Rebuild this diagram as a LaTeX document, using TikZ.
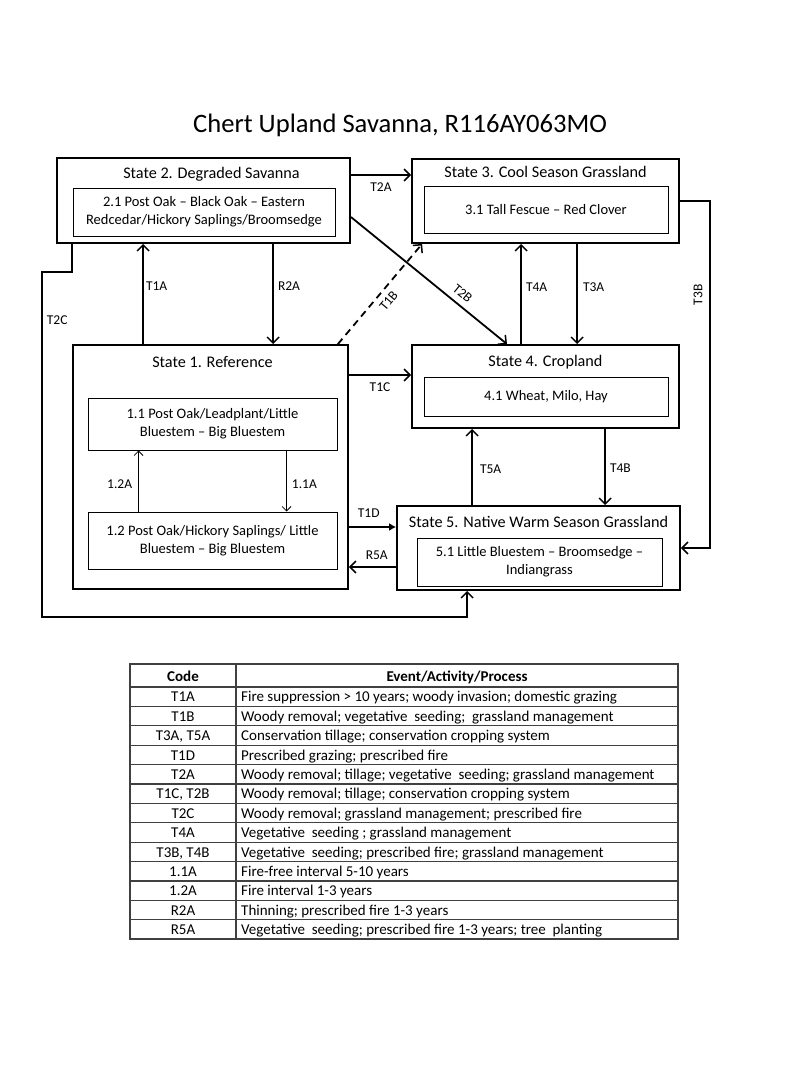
\documentclass[tikz,border=0pt]{standalone}
\usepackage{fontspec}
\setmainfont{Carlito}
\usetikzlibrary{positioning}
\usetikzlibrary{arrows.meta}

\begin{document}
\begin{tikzpicture}[x=1pt, y=-1pt,
statebox/.style={rectangle, draw, line width=1.8pt, inner sep=0pt},
phasebox/.style={rectangle, draw, line width=0.9pt, inner sep=2pt, align=center, font=\fontsize{14.5}{18}\selectfont},
statetitle/.style={inner sep=0pt, font=\fontsize{16.2}{18}\selectfont},
edge/.style={-{Straight Barb[length=6pt,width=12pt,line width=1.5pt]}, line width=1.8pt},
thinedge/.style={-{Straight Barb[length=4.5pt,width=9pt,line width=0.8pt]}, line width=0.8pt},
lbl/.style={inner sep=1pt, font=\fontsize{13.5}{15}\selectfont},
codecell/.style={inner sep=0pt, font=\fontsize{15}{17}\selectfont},
rowline/.style={draw=black!75, line width=1.3pt}
]
\useasboundingbox (0,0) rectangle (800,1067);

%Title
\node[font=\fontsize{26.6}{30}\selectfont] (title) at (400,125) {Chert Upland Savanna, R116AY063MO};

%States
\node[statebox, minimum width=293pt, minimum height=85pt] (s2) at (203.5,200.5) {};
\node[statebox, minimum width=267pt, minimum height=84pt] (s3) at (545.5,201) {};
\node[statebox, minimum width=267pt, minimum height=83pt] (s4) at (545.5,386.5) {};
\node[statebox, minimum width=275pt, minimum height=244pt] (s1) at (210.5,467) {};
\node[statebox, minimum width=283pt, minimum height=84pt] (s5) at (538.5,548) {};

\node[statetitle] (s2t) [below=10pt of s2.north, xshift=8pt] {State 2. Degraded Savanna};
\node[statetitle] (s3t) [below=8pt of s3.north] {State 3. Cool Season Grassland};
\node[statetitle] (s4t) [below=11pt of s4.north] {State 4. Cropland};
\node[statetitle] (s1t) [below=12pt of s1.north, xshift=2pt] {State 1. Reference};
\node[statetitle] (s5t) [below=11pt of s5.north] {State 5. Native Warm Season Grassland};

%Phases
\node[phasebox, minimum width=262pt, minimum height=48pt] (p21) at (204,212) {2.1 Post Oak – Black Oak – Eastern\\Redcedar/Hickory Saplings/Broomsedge};
\node[phasebox, minimum width=244pt, minimum height=47pt] (p31) at (546,209.5) {3.1 Tall Fescue – Red Clover};
\node[phasebox, minimum width=244pt, minimum height=39pt] (p41) at (546,396.5) {4.1 Wheat, Milo, Hay};
\node[phasebox, minimum width=249pt, minimum height=52pt] (p11) at (212.5,424) {1.1 Post Oak/Leadplant/Little\\Bluestem – Big Bluestem};
\node[phasebox, minimum width=249pt, minimum height=57pt] (p12) at (212.5,540.5) {1.2 Post Oak/Hickory Saplings/ Little\\Bluestem – Big Bluestem};
\node[phasebox, minimum width=245pt, minimum height=48pt] (p51) at (539.5,562) {5.1 Little Bluestem – Broomsedge –\\Indiangrass};

%Lines
\draw[edge] ([yshift=25.5pt]s2.east) -- node[lbl, below=6pt] (t2a) {T2A} ([yshift=25.5pt]s2.east -| s3.west);
\draw[edge] ([yshift=-16.5pt]s2.east) -- node[lbl, sloped, above=5pt, pos=0.67] (t2b) {T2B} ([xshift=-38.5pt]s4.north);
\draw[edge, dashed, dash pattern=on 7pt off 5pt] ([xshift=-11pt]s1.north east) -- node[lbl, sloped, below=5pt, pos=0.5] (t1b) {T1B} ([xshift=11pt]s3.south west);
\draw[edge] ([xshift=71pt]s1.north west) -- node[lbl, right=1pt, pos=0.58] (t1a) {T1A} ([xshift=71pt]s1.north west |- s2.south);
\draw[edge] ([xshift=217pt]s2.south west) -- node[lbl, right=3pt, pos=0.42] (r2a) {R2A} ([xshift=217pt]s2.south west |- s1.north);
\draw[edge] ([xshift=110pt]s4.north west) -- node[lbl, right=3pt, pos=0.57] (t4a) {T4A} ([xshift=110pt]s4.north west |- s3.south);
\draw[edge] ([xshift=166pt]s3.south west) -- node[lbl, right=4pt, pos=0.43] (t3a) {T3A} ([xshift=166pt]s3.south west |- s4.north);
\draw[edge] ([xshift=76pt]s5.north west) -- node[lbl, right=6pt, pos=0.47] (t5a) {T5A} ([xshift=76pt]s5.north west |- s4.south);
\draw[edge] ([xshift=194pt]s4.south west) -- node[lbl, right=3pt, pos=0.51] (t4b) {T4B} ([xshift=194pt]s4.south west |- s5.north);
\draw[edge] ([yshift=92pt]s1.east) -- node[lbl, below=6pt] (t1c) {T1C} ([yshift=92pt]s1.east -| s4.west);
\draw[-{Latex[length=7pt,width=8pt]}, line width=1.8pt] ([yshift=-60pt]s1.east) -- node[lbl, above=8pt, pos=0.42] (t1d) {T1D} ([yshift=-60pt]s1.east -| s5.west);
\draw[edge] ([yshift=-19pt]s5.west) -- node[lbl, above=6pt, pos=0.41] (r5a) {R5A} ([yshift=-19pt]s5.west -| s1.east);
\draw[edge] (s3.east) -- ++(30,0) |- (s5.east);
\node[lbl, rotate=90] (t3b) at (698,295) {T3B};
\coordinate (t2c1) at (42,272);
\coordinate (t2c2) at (42,617);
\draw[edge] ([xshift=16pt]s2.south west) |- (t2c1) -- node[lbl, right=3pt, pos=0.14] (t2c) {T2C} (t2c2) -| ([xshift=71pt]s5.south west);

\draw[thinedge] ([xshift=51pt]p12.north west) -- node[lbl, left=5pt, pos=0.45] (a12) {1.2A} ([xshift=51pt]p12.north west |- p11.south);
\draw[thinedge] ([xshift=199pt]p11.south west) -- node[lbl, right=4pt, pos=0.55] (a11) {1.1A} ([xshift=199pt]p11.south west |- p12.north);

%Table
\draw[rowline] (130,664) rectangle (678,939);
\draw[rowline] (236,664) -- (236,939);
\node[codecell, anchor=base, font=\bfseries\fontsize{15}{17}\selectfont] (hcode) at (183,681.5) {Code};
\node[codecell, anchor=base, font=\bfseries\fontsize{15}{17}\selectfont] (hevent) at (457,681.5) {Event/Activity/Process};
\draw[rowline] (130,687) -- (678,687);
\foreach \code/\event [count=\r] in {
T1A/{Fire suppression > 10 years; woody invasion; domestic grazing},
T1B/{Woody removal; vegetative\ \ seeding;\ \ grassland management},
{T3A, T5A}/{Conservation tillage; conservation cropping system},
T1D/{Prescribed grazing; prescribed fire},
T2A/{Woody removal; tillage; vegetative\ \ seeding; grassland management},
{T1C, T2B}/{Woody removal; tillage; conservation cropping system},
T2C/{Woody removal; grassland management; prescribed fire},
T4A/{Vegetative\ \ seeding ; grassland management},
{T3B, T4B}/{Vegetative\ \ seeding; prescribed fire; grassland management},
1.1A/{Fire-free interval 5-10 years},
1.2A/{Fire interval 1-3 years},
R2A/{Thinning; prescribed fire 1-3 years},
R5A/{Vegetative\ \ seeding; prescribed fire 1-3 years; tree\ \ planting}}
{
\node[codecell, anchor=base] (c\r) at (183,682.5+19.4*\r) {\code};
\node[codecell, anchor=base west] (e\r) at (241,682.5+19.4*\r) {\event};
\draw[rowline] (130,687+19.4*\r) -- (678,687+19.4*\r);
}
\end{tikzpicture}
\end{document}
